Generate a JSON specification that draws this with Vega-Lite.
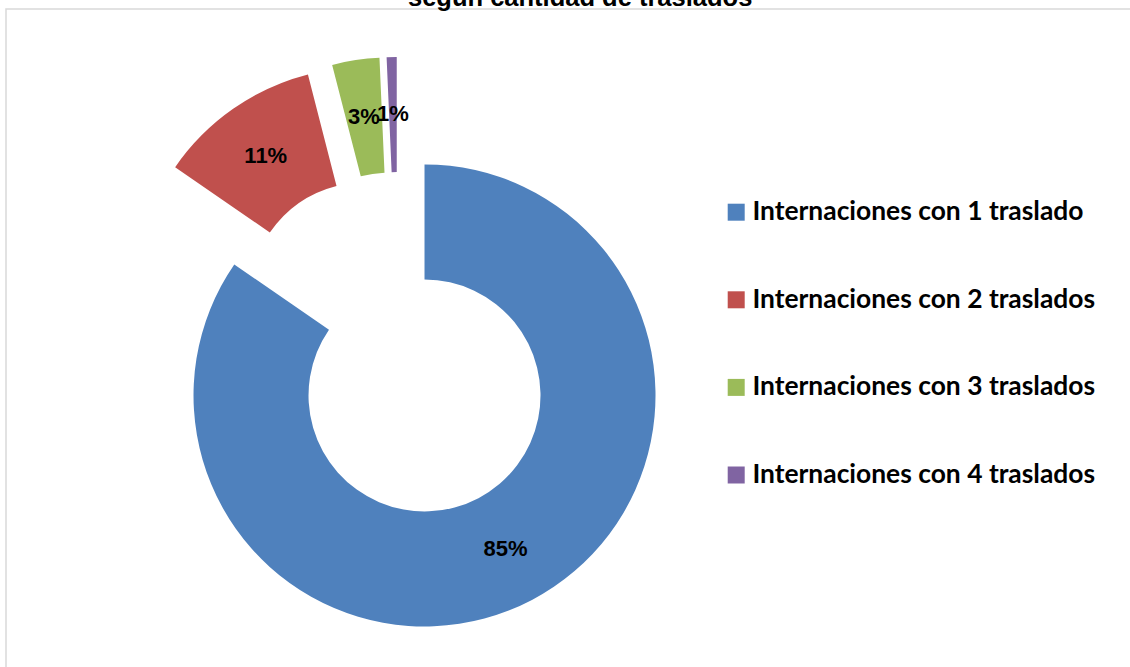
{
  "$schema": "https://vega.github.io/schema/vega-lite/v6.json",
  "width": 1200,
  "height": 700,
  "autosize": {"type": "none"},
  "padding": {"left": 6, "top": 9, "right": -76, "bottom": -42},
  "background": "white",
  "view": {"stroke": "#d9d9d9", "strokeWidth": 1.5},
  "title": {
    "text": "según cantidad de traslados",
    "font": "Liberation Sans",
    "fontSize": 25.5,
    "fontWeight": "bold",
    "color": "black",
    "anchor": "start",
    "dx": 402,
    "dy": 3,
    "offset": 1
  },
  "data": {
    "values": [
      {"categoria": "Internaciones con 1 traslado", "v": 0.846},
      {"categoria": "Internaciones con 2 traslados", "v": 0.114},
      {"categoria": "Internaciones con 3 traslados", "v": 0.033},
      {"categoria": "Internaciones con 4 traslados", "v": 0.007}
    ]
  },
  "encoding": {
    "theta": {"field": "v", "type": "quantitative", "stack": true},
    "order": {"field": "categoria", "sort": "ascending"},
    "color": {
      "field": "categoria",
      "type": "nominal",
      "sort": null,
      "scale": {"range": ["#4F81BD", "#C0504D", "#9BBB59", "#8064A2"]},
      "legend": {
        "title": null,
        "orient": "none",
        "legendX": 717,
        "legendY": 190,
        "symbolType": "square",
        "symbolSize": 289,
        "symbolStrokeWidth": 0,
        "labelFont": "Lato",
        "labelFontSize": 26.4,
        "labelFontWeight": "bold",
        "labelColor": "black",
        "labelOffset": 3,
        "rowPadding": 60.6,
        "labelLimit": 500
      }
    }
  },
  "layer": [
    {
      "mark": {
        "type": "arc",
        "innerRadius": 116,
        "outerRadius": 231,
        "x": {"expr": "392 + 57 * sin((scale('theta', datum.v_start) + scale('theta', datum.v_end)) / 2)"},
        "y": {"expr": "336 - 57 * cos((scale('theta', datum.v_start) + scale('theta', datum.v_end)) / 2)"}
      }
    },
    {
      "mark": {
        "type": "text",
        "radius": 174,
        "font": "Liberation Sans",
        "fontSize": 22,
        "fontWeight": "bold",
        "x": {"expr": "392 + 57 * sin((scale('theta', datum.v_start) + scale('theta', datum.v_end)) / 2)"},
        "y": {"expr": "336 - 57 * cos((scale('theta', datum.v_start) + scale('theta', datum.v_end)) / 2)"}
      },
      "encoding": {
        "text": {"field": "v", "type": "quantitative", "format": ".0%"},
        "fill": {"value": "black"}
      }
    }
  ],
  "config": {
    "view": {"stroke": "#d9d9d9", "strokeWidth": 1.5}
  }
}
